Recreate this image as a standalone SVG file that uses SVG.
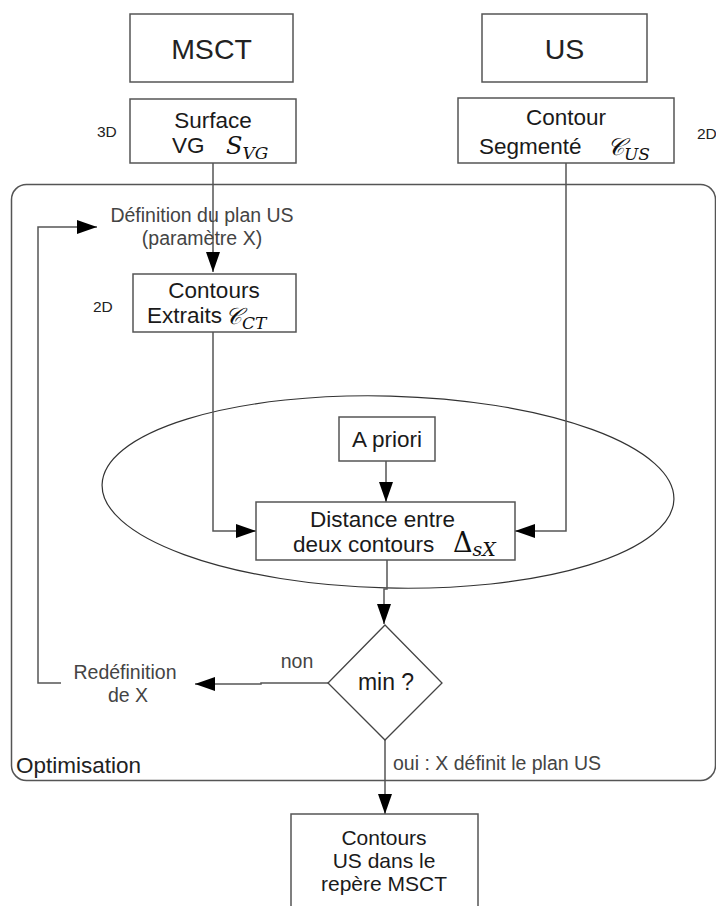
<svg xmlns="http://www.w3.org/2000/svg" width="716" height="906" viewBox="0 0 716 906">
<style>
text{font-family:"Liberation Sans",Arial,sans-serif}
.box{fill:#fff;stroke:#555;stroke-width:1.5}
.t{font-size:22.5px;fill:#1a1a1a}
.big{font-size:28.5px;fill:#222}
.g{font-size:19.5px;fill:#444}
.dim{font-size:15.5px;fill:#222}
.m{font-family:"DejaVu Serif","Liberation Serif",serif;font-style:italic;fill:#111}
.c{text-anchor:middle}
.ln{fill:none;stroke:#555;stroke-width:1.5}
</style>
<defs>
<marker id="ah" markerUnits="userSpaceOnUse" markerWidth="20" markerHeight="14" refX="20" refY="7" orient="auto">
<path d="M0,0 L20,7 L0,14 z" fill="#000"/>
</marker>
</defs>
<g id="optimisation">
<rect x="11.5" y="184.5" width="704" height="596" rx="15" fill="none" stroke="#555" stroke-width="1.5"/>
<text x="16" y="773" style="font-size:22.5px;fill:#222">Optimisation</text>
</g>
<g id="ellipse">
<ellipse cx="388" cy="492" rx="286" ry="96" transform="rotate(1.5 388 492)" fill="none" stroke="#333" stroke-width="1.2"/>
</g>
<g id="connectors">
<path class="ln" d="M213 163 V272" marker-end="url(#ah)"/>
<path class="ln" d="M213 332 V531 H256" marker-end="url(#ah)"/>
<path class="ln" d="M566 163 V531 H515" marker-end="url(#ah)"/>
<path class="ln" d="M386 461 V502" marker-end="url(#ah)"/>
<path class="ln" d="M387 560 V589 H384 V624" marker-end="url(#ah)"/>
<path class="ln" d="M328 683 H261 V684 H195" marker-end="url(#ah)"/>
<path class="ln" d="M61 683 H38 V227 H97" marker-end="url(#ah)"/>
<path class="ln" d="M385 740 V814" marker-end="url(#ah)"/>
</g>
<g id="msct">
<rect class="box" x="130" y="14" width="163" height="68"/>
<text class="big c" x="211.5" y="59">MSCT</text>
</g>
<g id="us">
<rect class="box" x="482" y="14" width="165" height="68"/>
<text class="big c" x="564.5" y="59">US</text>
</g>
<g id="surface">
<rect class="box" x="130" y="99" width="166" height="64"/>
<text class="t c" x="213" y="128">Surface</text>
<text class="t" x="172" y="153">VG</text>
<text class="m" x="226" y="154" style="font-size:24px">S<tspan dy="5" style="font-size:17px">VG</tspan></text>
<text class="dim" x="97" y="137">3D</text>
</g>
<g id="contour-segmente">
<rect class="box" x="458" y="98" width="216" height="65"/>
<text class="t" x="526" y="125">Contour</text>
<text class="t" x="479" y="154">Segmenté</text>
<text class="m" x="607" y="155" style="font-size:24px">𝒞<tspan dy="5" style="font-size:17px">US</tspan></text>
<text class="dim" x="697" y="139">2D</text>
</g>
<g id="definition">
<text class="g c" x="202" y="222">Définition du plan US</text>
<text class="g c" x="202" y="245">(paramètre X)</text>
</g>
<g id="contours-extraits">
<rect class="box" x="133" y="274" width="163" height="58"/>
<text class="t c" x="214" y="298">Contours</text>
<text class="t" x="147" y="323">Extraits</text>
<text class="m" x="225" y="324" style="font-size:23px">𝒞<tspan dy="5" style="font-size:17px">CT</tspan></text>
<text class="dim" x="93" y="312">2D</text>
</g>
<g id="a-priori">
<rect class="box" x="339" y="417" width="96" height="44"/>
<text class="t c" x="387" y="447">A priori</text>
</g>
<g id="distance">
<rect class="box" x="256" y="502" width="259" height="58"/>
<text class="t" x="310" y="527">Distance entre</text>
<text class="t" x="293" y="552">deux contours</text>
<text x="453" y="552" style="font-family:'DejaVu Serif','Liberation Serif',serif;font-size:27px;fill:#111">Δ<tspan dy="4" style="font-style:italic;font-size:19px">sX</tspan></text>
</g>
<g id="min">
<polygon points="385,625 442,683 385,740 328,683" fill="#fff" stroke="#444" stroke-width="1.3"/>
<text class="t c" x="386" y="690" style="font-size:23px">min ?</text>
</g>
<g id="labels">
<text class="g c" x="297" y="668">non</text>
<text class="g" x="393" y="770">oui : X définit le plan US</text>
</g>
<g id="redefinition">
<text class="g c" x="125" y="679">Redéfinition</text>
<text class="g c" x="128" y="702">de X</text>
</g>
<g id="resultat">
<rect class="box" x="291" y="814" width="187" height="110"/>
<text class="t c" x="384" y="845" style="font-size:21px">Contours</text>
<text class="t c" x="384" y="868" style="font-size:21px">US dans le</text>
<text class="t c" x="384" y="891" style="font-size:21px">repère MSCT</text>
</g>
</svg>
